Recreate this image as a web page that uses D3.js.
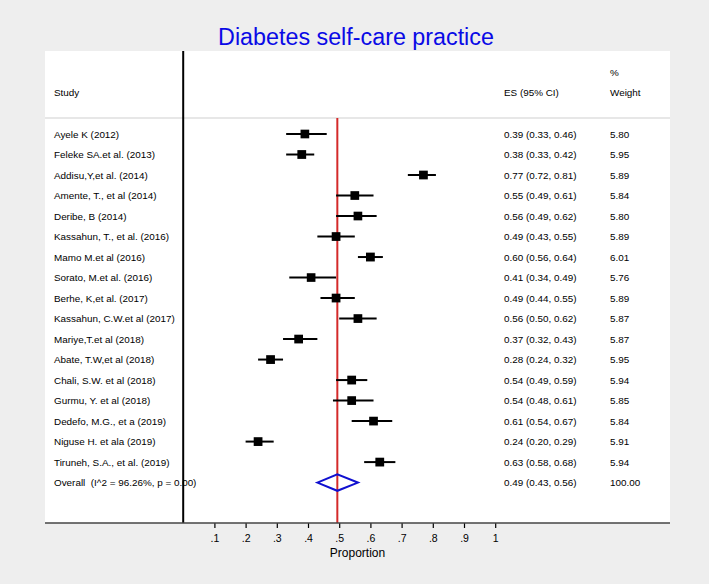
<!DOCTYPE html>
<html>
<head>
<meta charset="utf-8">
<script src="https://cdn.jsdelivr.net/npm/d3@7"></script>
<style>
  html, body { margin: 0; padding: 0; background: #eeeeee; }
  svg { display: block; }
  text { font-family: "Liberation Sans", Arial, Helvetica, sans-serif; fill: #000; }
</style>
</head>
<body>
<script>
// ---- data ----
const studies = [
  "Ayele K (2012)",
  "Feleke SA.et al. (2013)",
  "Addisu,Y,et al. (2014)",
  "Amente, T., et al (2014)",
  "Deribe, B (2014)",
  "Kassahun, T., et al. (2016)",
  "Mamo M.et al (2016)",
  "Sorato, M.et al. (2016)",
  "Berhe, K,et al. (2017)",
  "Kassahun, C.W.et al (2017)",
  "Mariye,T.et al (2018)",
  "Abate, T.W,et al (2018)",
  "Chali, S.W. et al (2018)",
  "Gurmu, Y. et al (2018)",
  "Dedefo, M.G., et a (2019)",
  "Niguse H. et ala (2019)",
  "Tiruneh, S.A., et al. (2019)"
];
const es    = [0.39, 0.38, 0.77, 0.55, 0.56, 0.49, 0.60, 0.41, 0.49, 0.56, 0.37, 0.28, 0.54, 0.54, 0.61, 0.24, 0.63];
const lower = [0.33, 0.33, 0.72, 0.49, 0.49, 0.43, 0.56, 0.34, 0.44, 0.50, 0.32, 0.24, 0.49, 0.48, 0.54, 0.20, 0.58];
const upper = [0.46, 0.42, 0.81, 0.61, 0.62, 0.55, 0.64, 0.49, 0.55, 0.62, 0.43, 0.32, 0.59, 0.61, 0.67, 0.29, 0.68];
const weights = [5.80, 5.95, 5.89, 5.84, 5.80, 5.89, 6.01, 5.76, 5.89, 5.87, 5.87, 5.95, 5.94, 5.85, 5.84, 5.91, 5.94];
const overallLabel = "Overall  (I^2 = 96.26%, p = 0.00)";
const overallES = 0.494, overallLo = 0.43, overallHi = 0.56, overallWeight = "100.00";
const tickValues = [0.1, 0.2, 0.3, 0.4, 0.5, 0.6, 0.7, 0.8, 0.9, 1];
const tickLabels = [".1", ".2", ".3", ".4", ".5", ".6", ".7", ".8", ".9", "1"];
const titleText = "Diabetes self-care practice";
const xAxisTitle = "Proportion";

// ---- layout ----
const W = 709, H = 584;
const panel = { x0: 45, x1: 670, y0: 51, y1: 523 };
const headerLineY = 118;

const svg = d3.select("body").append("svg").attr("width", W).attr("height", H);

svg.append("rect").attr("x", panel.x0).attr("y", panel.y0)
  .attr("width", panel.x1 - panel.x0).attr("height", panel.y1 - panel.y0)
  .attr("fill", "#ffffff");

// title
svg.append("text").attr("x", 356).attr("y", 45).attr("text-anchor", "middle")
  .style("font-size", "23.3px").style("fill", "#0a0ae6").text(titleText);

// scales
const x = d3.scaleLinear().domain([0, 1]).range([183.2, 495.2]);
const rowKeys = studies.concat([overallLabel]);
const y = d3.scalePoint().domain(rowKeys).range([134, 482.6]);

// header separator
svg.append("line").attr("x1", panel.x0).attr("x2", panel.x1)
  .attr("y1", headerLineY).attr("y2", headerLineY)
  .attr("stroke", "#cfcfcf").attr("stroke-width", 1.2);

// black zero line
svg.append("line").attr("x1", x(0)).attr("x2", x(0))
  .attr("y1", panel.y0).attr("y2", panel.y1)
  .attr("stroke", "#000").attr("stroke-width", 2);

// red pooled line
svg.append("line").attr("x1", x(overallES)).attr("x2", x(overallES))
  .attr("y1", headerLineY).attr("y2", panel.y1)
  .attr("stroke", "#d42a2a").attr("stroke-width", 2);

// header texts
const fs = "9.9px";
svg.append("text").attr("x", 54).attr("y", 96).style("font-size", fs).text("Study");
svg.append("text").attr("x", 504).attr("y", 96).style("font-size", fs).text("ES (95% CI)");
svg.append("text").attr("x", 610).attr("y", 76).style("font-size", fs).text("%");
svg.append("text").attr("x", 610).attr("y", 96).style("font-size", fs).text("Weight");

// study rows
const rows = studies.map((s, i) => ({ s, es: es[i], lo: lower[i], hi: upper[i], w: weights[i] }));
const fmt = d3.format(".2f");
const g = svg.append("g");

g.selectAll("line.ci").data(rows).join("line").attr("class", "ci")
  .attr("x1", d => x(d.lo)).attr("x2", d => x(d.hi))
  .attr("y1", d => y(d.s)).attr("y2", d => y(d.s))
  .attr("stroke", "#000").attr("stroke-width", 2);

const side = w => 3.6 * Math.sqrt(w);
g.selectAll("rect.box").data(rows).join("rect").attr("class", "box")
  .attr("x", d => x(d.es) - side(d.w) / 2).attr("y", d => y(d.s) - side(d.w) / 2)
  .attr("width", d => side(d.w)).attr("height", d => side(d.w)).attr("fill", "#000");

g.selectAll("text.lab").data(rows).join("text").attr("class", "lab")
  .attr("x", 54).attr("y", d => y(d.s) + 3.6).style("font-size", fs).text(d => d.s);
g.selectAll("text.esv").data(rows).join("text").attr("class", "esv")
  .attr("x", 504).attr("y", d => y(d.s) + 3.6).style("font-size", fs)
  .text(d => `${fmt(d.es)} (${fmt(d.lo)}, ${fmt(d.hi)})`);
g.selectAll("text.wt").data(rows).join("text").attr("class", "wt")
  .attr("x", 610).attr("y", d => y(d.s) + 3.6).style("font-size", fs).text(d => fmt(d.w));

// overall row
const yo = y(overallLabel);
const dh = 8.2;
svg.append("path")
  .attr("d", `M${x(overallLo)},${yo} L${x(overallES)},${yo - dh} L${x(overallHi)},${yo} L${x(overallES)},${yo + dh} Z`)
  .attr("fill", "none").attr("stroke", "#1010d0").attr("stroke-width", 2);
svg.append("text").attr("x", 54).attr("y", yo + 3.6).style("font-size", fs).style("white-space", "pre")
  .attr("xml:space", "preserve").text(overallLabel);
svg.append("text").attr("x", 504).attr("y", yo + 3.6).style("font-size", fs)
  .text(`${fmt(overallES)} (${fmt(overallLo)}, ${fmt(overallHi)})`);
svg.append("text").attr("x", 610).attr("y", yo + 3.6).style("font-size", fs).text(overallWeight);

// x axis
const axis = d3.axisBottom(x).tickValues(tickValues).tickSize(5).tickPadding(7)
  .tickFormat((d, i) => tickLabels[i]);
const ax = svg.append("g").attr("transform", `translate(0,${panel.y1})`).call(axis);
ax.select(".domain").remove();
ax.selectAll(".tick line").attr("stroke", "#000").attr("stroke-width", 1.2);
ax.selectAll(".tick text").style("font-size", "10.5px").style("font-family", "'Liberation Sans', Arial, sans-serif").attr("fill", "#000");
svg.append("line").attr("x1", panel.x0).attr("x2", panel.x1)
  .attr("y1", panel.y1).attr("y2", panel.y1).attr("stroke", "#444").attr("stroke-width", 1.5);

svg.append("text").attr("x", (panel.x0 + panel.x1) / 2).attr("y", 557).attr("text-anchor", "middle")
  .style("font-size", "12px").text(xAxisTitle);
</script>
</body>
</html>
